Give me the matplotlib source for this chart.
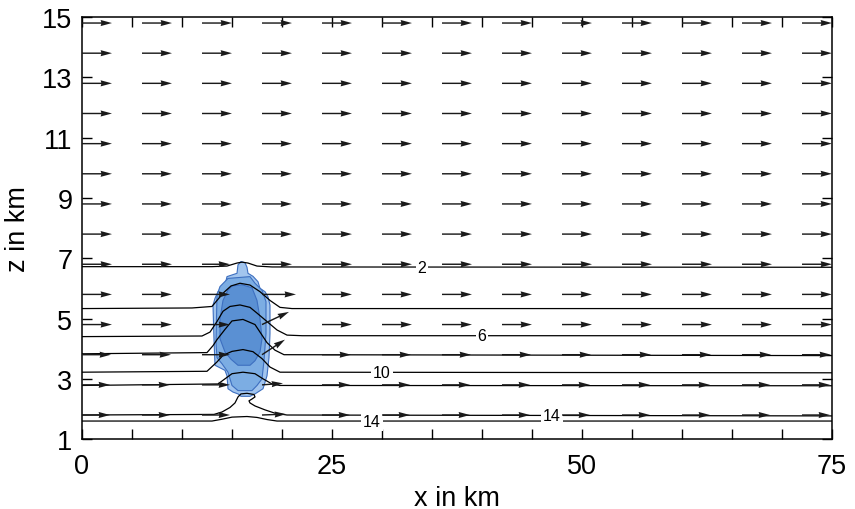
import numpy as np
import matplotlib
matplotlib.use("Agg")
import matplotlib.pyplot as plt

plt.rcParams['font.family'] = ['Liberation Sans', 'DejaVu Sans']

# wind arrows: tails on a regular grid (km)
arrow_x = [0, 6, 12, 18, 24, 30, 36, 42, 48, 54, 60, 66, 72]
arrow_z = [1.8, 2.8, 3.8, 4.8, 5.8, 6.8, 7.8, 8.8, 9.8, 10.8, 11.8, 12.8, 13.8, 14.8]
# background u per row (km per arrow length)
wind_u = [2.8, 2.8, 2.9, 3.0, 3.0, 3.0, 3.0, 3.0, 3.0, 3.0, 3.0, 3.0, 3.0, 3.0]
# disturbed arrows around the cloud: x, z, u, w
gust_x = [12, 12, 12, 12, 12, 12, 18, 18, 18, 18, 18, 18]
gust_z = [1.8, 2.8, 3.8, 4.8, 5.8, 6.8, 1.8, 2.8, 3.8, 4.8, 5.8, 6.8]
gust_u = [2.8, 2.8, 2.8, 2.8, 2.8, 2.8, 2.4, 2.1, 2.3, 2.7, 3.4, 3.0]
gust_w = [0.0, 0.0, 0.0, 0.0, 0.0, 0.0, 0.03, 0.05, 0.5, 0.42, 0.0, 0.0]

# isolines (x, z) in km
iso2_x = [0, 13, 14.5, 15.5, 16.0, 16.6, 17.5, 19, 75]
iso2_z = [6.72, 6.72, 6.74, 6.84, 6.87, 6.84, 6.74, 6.71, 6.70]
iso4_x = [0, 11, 13.0, 13.5, 14.2, 14.9, 15.8, 16.8, 17.8, 18.8, 19.8, 21, 75]
iso4_z = [5.33, 5.35, 5.4, 5.6, 5.87, 6.08, 6.17, 6.11, 5.89, 5.6, 5.37, 5.33, 5.33]
iso6_x = [0, 12, 12.8, 13.5, 14.1, 14.8, 15.8, 16.8, 17.5, 18.5, 19.5, 20.5, 22, 75]
iso6_z = [4.4, 4.42, 4.55, 4.9, 5.24, 5.4, 5.45, 5.37, 5.18, 4.9, 4.62, 4.45, 4.43, 4.43]
iso8_x = [0, 12.5, 13.1, 13.5, 14.3, 15.0, 16.1, 17.3, 17.9, 18.5, 19.3, 20.2, 75]
iso8_z = [3.83, 3.87, 4.1, 4.3, 4.64, 4.92, 4.97, 4.8, 4.5, 4.2, 3.95, 3.8, 3.77]
iso10_x = [0, 12.5, 13.5, 14.1, 15.0, 16.1, 17.1, 18.0, 18.8, 19.8, 75]
iso10_z = [3.22, 3.25, 3.56, 3.78, 3.91, 3.97, 3.9, 3.67, 3.39, 3.22, 3.2]
iso12_x = [0, 13.6, 14.3, 15.0, 16.1, 17.3, 18.1, 19.0, 19.8, 75]
iso12_z = [2.78, 2.83, 3.0, 3.17, 3.22, 3.17, 3.0, 2.83, 2.78, 2.77]
iso14a_x = [0, 13.2, 14.0, 14.8, 15.3, 15.6, 15.9, 16.5, 17.2, 17.3, 17.0, 16.7,
            16.8, 17.3, 18.3, 19.3, 20.5, 75]
iso14a_z = [1.8, 1.82, 1.9, 2.05, 2.2, 2.4, 2.5, 2.52, 2.48, 2.4, 2.33, 2.27,
            2.2, 2.1, 1.97, 1.86, 1.8, 1.77]
iso14b_x = [0, 13, 14, 15, 16.5, 17.5, 18.5, 19.5, 75]
iso14b_z = [1.6, 1.6, 1.66, 1.73, 1.75, 1.72, 1.65, 1.6, 1.6]

# isoline labels
label_text = ['2', '6', '10', '14', '14']
label_x = [34.0, 40.0, 30.0, 29.0, 47.0]
label_z = [6.70, 4.43, 3.21, 1.58, 1.78]

# cloud outlines (km)
cloud_light_x = [15.9, 16.3, 16.5, 16.6, 17.1, 17.6, 17.8, 18.3, 18.6, 18.8, 18.8, 18.7,
                 18.5, 18.1, 17.3, 16.8, 15.9, 15.6, 15.1, 14.6, 14.5, 14.3, 13.3, 13.2,
                 13.1, 13.3, 13.6, 14.3, 14.5, 15.5, 15.6]
cloud_light_z = [6.89, 6.85, 6.7, 6.5, 6.4, 6.22, 6.0, 5.89, 5.72, 5.44, 4.5, 3.7,
                 3.1, 2.67, 2.5, 2.42, 2.42, 2.5, 2.56, 2.67, 3.1, 3.28, 3.45, 4.3,
                 5.44, 5.67, 5.89, 6.11, 6.39, 6.5, 6.78]
cloud_mid_x = [14.6, 16.8, 17.3, 18.0, 18.4, 18.4, 18.2, 18.0, 17.5, 17.0, 15.6, 15.0,
               14.6, 14.0, 13.5, 13.4, 13.5, 13.8]
cloud_mid_z = [6.33, 6.39, 6.17, 5.94, 5.56, 4.5, 3.6, 3.0, 2.78, 2.61, 2.61, 2.78,
               3.22, 3.5, 3.7, 4.2, 5.78, 6.06]
cloud_dark_x = [15.0, 16.0, 17.0, 17.5, 17.8, 18.0, 17.8, 17.3, 16.8, 15.6, 14.9, 14.3,
                13.8, 13.8, 14.1, 14.6]
cloud_dark_z = [6.08, 6.12, 6.02, 5.6, 5.0, 4.33, 3.89, 3.6, 3.45, 3.45, 3.65, 3.89,
                4.33, 5.0, 5.6, 5.95]

fig = plt.figure(figsize=(8.55, 5.1), dpi=100)
ax = fig.add_axes([0.0959, 0.137, 0.8772, 0.8277])

# cloud
for cx, cz, fc in [(cloud_light_x, cloud_light_z, '#a2c5ee'),
                   (cloud_mid_x, cloud_mid_z, '#7cade3'),
                   (cloud_dark_x, cloud_dark_z, '#5a90d3')]:
    ax.fill(cx, cz, facecolor=fc, edgecolor='#3d6fc0', linewidth=0.8, zorder=1)

# isolines
for ix, iz in [(iso2_x, iso2_z), (iso4_x, iso4_z), (iso6_x, iso6_z), (iso8_x, iso8_z),
               (iso10_x, iso10_z), (iso12_x, iso12_z), (iso14a_x, iso14a_z),
               (iso14b_x, iso14b_z)]:
    ax.plot(ix, iz, color='black', linewidth=0.9, zorder=2)

for t, lx, lz in zip(label_text, label_x, label_z):
    ax.text(lx, lz, t, fontsize=11.5, ha='center', va='center', zorder=3,
            bbox=dict(boxstyle='square,pad=0.12', facecolor='white', edgecolor='none'))

# wind field
X, Z = np.meshgrid(arrow_x, arrow_z)
U = np.repeat(np.array(wind_u)[:, None], len(arrow_x), axis=1)
W = np.zeros_like(U)
for gx, gz, gu, gw in zip(gust_x, gust_z, gust_u, gust_w):
    i = arrow_z.index(gz)
    j = arrow_x.index(gx)
    U[i, j] = gu
    W[i, j] = gw
ax.quiver(X, Z, U, W, angles='xy', scale_units='xy', scale=1, color='#1a1a1a',
          width=0.0019, headwidth=4.3, headlength=8, headaxislength=7.5, zorder=4)

ax.set_xlim(0, 75)
ax.set_ylim(1, 15)
ax.set_xticks([0, 25, 50, 75])
ax.set_xticks(np.arange(0, 76, 5), minor=True)
ax.set_yticks([1, 3, 5, 7, 9, 11, 13, 15])
ax.tick_params(which='both', direction='in', length=7, width=1, top=True, right=True,
               labelsize=19.5)
ax.tick_params(axis='x', which='major', pad=10)
ax.tick_params(axis='y', which='major', pad=7)
ax.tick_params(axis='y', which='minor', left=False, right=False)
for s in ax.spines.values():
    s.set_linewidth(1.1)
ax.set_xlabel('x in km', fontsize=19.5, labelpad=4)
ax.set_ylabel('z in km', fontsize=19.5, labelpad=8)

fig.savefig('out.png', dpi=100)
